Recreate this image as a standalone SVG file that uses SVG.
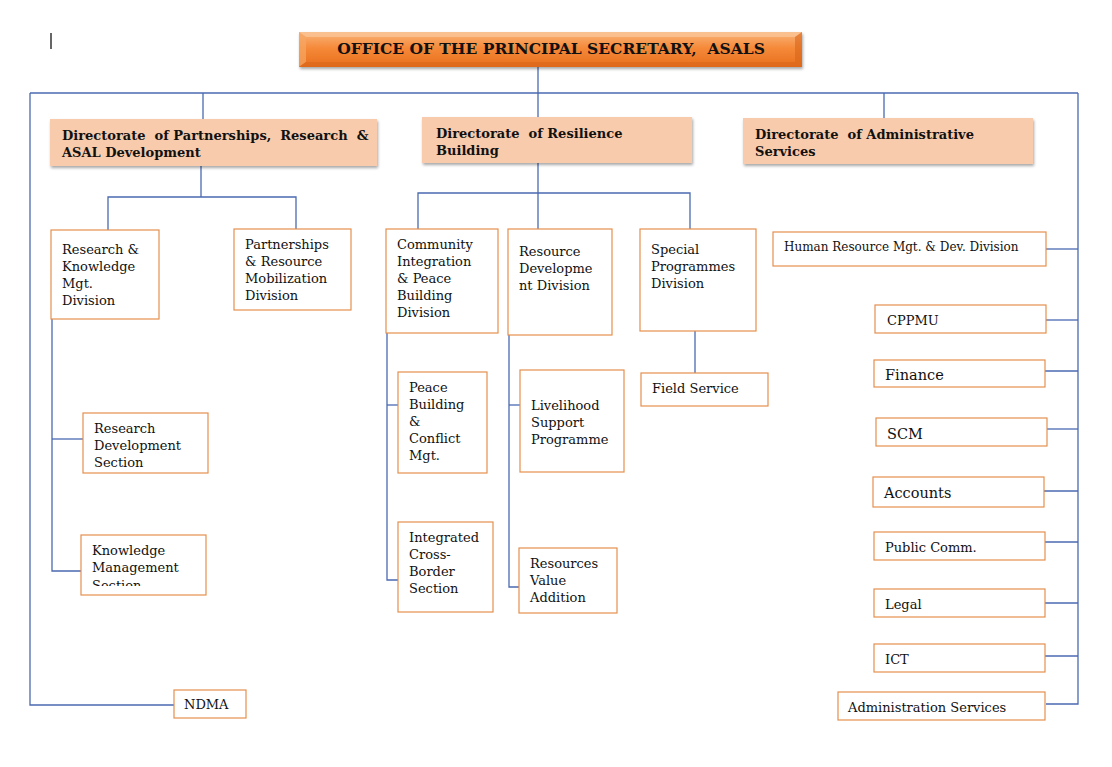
<svg xmlns="http://www.w3.org/2000/svg" width="1112" height="767" viewBox="0 0 1112 767">
<defs>
<linearGradient id="tg" x1="0" y1="0" x2="0" y2="1">
<stop offset="0" stop-color="#F9B47A"/>
<stop offset="0.45" stop-color="#F58A3A"/>
<stop offset="1" stop-color="#E86E1C"/>
</linearGradient>
<filter id="sh" x="-5%" y="-20%" width="110%" height="150%">
<feGaussianBlur in="SourceAlpha" stdDeviation="1.5"/>
<feOffset dx="1" dy="2"/>
<feComponentTransfer><feFuncA type="linear" slope="0.35"/></feComponentTransfer>
<feMerge><feMergeNode/><feMergeNode in="SourceGraphic"/></feMerge>
</filter>
<clipPath id="kmclip"><rect x="81" y="535" width="126" height="51"/></clipPath>
</defs>
<style>
.c{stroke:#4A6AB0;stroke-width:1.3;fill:none}
.b{fill:#fff;stroke:#E58F4E;stroke-width:1.2}
.d{fill:#F8CBAD;filter:url(#sh)}
.t{font-family:"DejaVu Serif","Liberation Serif",serif;font-size:13px;fill:#111}
.s{font-family:"DejaVu Serif","Liberation Serif",serif;font-size:12px;fill:#111}
.l{font-family:"DejaVu Serif","Liberation Serif",serif;font-size:14.5px;fill:#111}
.h{font-family:"DejaVu Serif","Liberation Serif",serif;font-size:13px;font-weight:bold;fill:#111}
.ti{font-family:"DejaVu Serif","Liberation Serif",serif;font-size:15.5px;font-weight:bold;fill:#111}
</style>
<rect width="1112" height="767" fill="#fff"/>
<line x1="51" y1="33" x2="51" y2="49" stroke="#000" stroke-width="1.2"/>
<g id="connectors">
<polyline class="c" points="538,67 538,117"/>
<line class="c" x1="30" y1="93" x2="1078" y2="93"/>
<polyline class="c" points="30,93 30,705 174,705"/>
<polyline class="c" points="1078,93 1078,704 1046,704"/>
<line class="c" x1="203" y1="93" x2="203" y2="119"/>
<line class="c" x1="884" y1="93" x2="884" y2="118"/>
<line class="c" x1="201" y1="166" x2="201" y2="197"/>
<polyline class="c" points="108,230 108,197 296,197 296,229"/>
<polyline class="c" points="52,319 52,571 81,571"/>
<line class="c" x1="52" y1="439" x2="83" y2="439"/>
<line class="c" x1="538" y1="163" x2="538" y2="229"/>
<polyline class="c" points="418,229 418,193 690,193 690,229"/>
<polyline class="c" points="387,333 387,580 398,580"/>
<line class="c" x1="387" y1="405" x2="398" y2="405"/>
<polyline class="c" points="509,335 509,587 519,587"/>
<line class="c" x1="509" y1="405" x2="520" y2="405"/>
<line class="c" x1="695" y1="331" x2="695" y2="373"/>
<line class="c" x1="1046" y1="249" x2="1078" y2="249"/>
<line class="c" x1="1046" y1="320" x2="1078" y2="320"/>
<line class="c" x1="1045" y1="371" x2="1078" y2="371"/>
<line class="c" x1="1047" y1="429" x2="1078" y2="429"/>
<line class="c" x1="1044" y1="491" x2="1078" y2="491"/>
<line class="c" x1="1045" y1="542" x2="1078" y2="542"/>
<line class="c" x1="1045" y1="603" x2="1078" y2="603"/>
<line class="c" x1="1045" y1="656" x2="1078" y2="656"/>
</g>
<g id="office">
<rect x="299" y="32" width="503" height="35" fill="url(#tg)" filter="url(#sh)"/>
<polygon points="299,32 802,32 795,37 306,37" fill="#FBC89A" opacity="0.7"/>
<polygon points="299,32 306,37 306,62 299,67" fill="#F7A765" opacity="0.7"/>
<polygon points="802,32 795,37 795,62 802,67" fill="#D8651A" opacity="0.6"/>
<polygon points="299,67 306,62 795,62 802,67" fill="#D8661A" opacity="0.6"/>
<text class="ti" x="551" y="54" text-anchor="middle" xml:space="preserve">OFFICE OF THE PRINCIPAL SECRETARY,  ASALS</text>
</g>
<g id="dir-partnerships">
<rect class="d" x="50" y="119" width="327" height="47"/>
<text class="h" x="62" y="140" xml:space="preserve">Directorate  of Partnerships,  Research  &amp;</text>
<text class="h" x="62" y="157">ASAL Development</text>
</g>
<g id="dir-resilience">
<rect class="d" x="422" y="117" width="270" height="46"/>
<text class="h" x="436" y="138" xml:space="preserve">Directorate  of Resilience</text>
<text class="h" x="436" y="155">Building</text>
</g>
<g id="dir-admin">
<rect class="d" x="743" y="118" width="290" height="46"/>
<text class="h" x="755" y="139" xml:space="preserve">Directorate  of Administrative</text>
<text class="h" x="755" y="156">Services</text>
</g>
<g id="research-knowledge">
<rect class="b" x="51" y="230" width="108" height="89"/>
<text class="t" x="62" y="254">Research &amp;</text>
<text class="t" x="62" y="271">Knowledge</text>
<text class="t" x="62" y="288">Mgt.</text>
<text class="t" x="62" y="305">Division</text>
</g>
<g id="partnerships-division">
<rect class="b" x="234" y="229" width="117" height="81"/>
<text class="t" x="245" y="249">Partnerships</text>
<text class="t" x="245" y="266">&amp; Resource</text>
<text class="t" x="245" y="283">Mobilization</text>
<text class="t" x="245" y="300">Division</text>
</g>
<g id="research-dev-section">
<rect class="b" x="83" y="413" width="125" height="60"/>
<text class="t" x="94" y="433">Research</text>
<text class="t" x="94" y="450">Development</text>
<text class="t" x="94" y="467">Section</text>
</g>
<g id="knowledge-mgmt-section">
<rect class="b" x="81" y="535" width="125" height="60"/>
<g clip-path="url(#kmclip)">
<text class="t" x="92" y="555">Knowledge</text>
<text class="t" x="92" y="572">Management</text>
<text class="t" x="92" y="590">Section</text>
</g>
</g>
<g id="community-integration">
<rect class="b" x="386" y="229" width="112" height="104"/>
<text class="t" x="397" y="249">Community</text>
<text class="t" x="397" y="266">Integration</text>
<text class="t" x="397" y="283">&amp; Peace</text>
<text class="t" x="397" y="300">Building</text>
<text class="t" x="397" y="317">Division</text>
</g>
<g id="resource-development">
<rect class="b" x="508" y="229" width="104" height="106"/>
<text class="t" x="519" y="256">Resource</text>
<text class="t" x="519" y="273">Developme</text>
<text class="t" x="519" y="290">nt Division</text>
</g>
<g id="special-programmes">
<rect class="b" x="640" y="229" width="116" height="102"/>
<text class="t" x="651" y="254">Special</text>
<text class="t" x="651" y="271">Programmes</text>
<text class="t" x="651" y="288">Division</text>
</g>
<g id="peace-building">
<rect class="b" x="398" y="372" width="89" height="101"/>
<text class="t" x="409" y="392">Peace</text>
<text class="t" x="409" y="409">Building</text>
<text class="t" x="409" y="426">&amp;</text>
<text class="t" x="409" y="443">Conflict</text>
<text class="t" x="409" y="460">Mgt.</text>
</g>
<g id="integrated-cross-border">
<rect class="b" x="398" y="522" width="95" height="90"/>
<text class="t" x="409" y="542">Integrated</text>
<text class="t" x="409" y="559">Cross-</text>
<text class="t" x="409" y="576">Border</text>
<text class="t" x="409" y="593">Section</text>
</g>
<g id="livelihood-support">
<rect class="b" x="520" y="370" width="104" height="102"/>
<text class="t" x="531" y="410">Livelihood</text>
<text class="t" x="531" y="427">Support</text>
<text class="t" x="531" y="444">Programme</text>
</g>
<g id="resources-value-addition">
<rect class="b" x="519" y="548" width="98" height="65"/>
<text class="t" x="530" y="568">Resources</text>
<text class="t" x="530" y="585">Value</text>
<text class="t" x="530" y="602">Addition</text>
</g>
<g id="field-service">
<rect class="b" x="641" y="373" width="127" height="33"/>
<text class="t" x="652" y="393">Field Service</text>
</g>
<g id="hr">
<rect class="b" x="773" y="232" width="273" height="34"/>
<text class="s" x="784" y="251">Human Resource Mgt. &amp; Dev. Division</text>
</g>
<g id="cppmu">
<rect class="b" x="875" y="305" width="171" height="28"/>
<text class="t" x="887" y="325">CPPMU</text>
</g>
<g id="finance">
<rect class="b" x="874" y="360" width="171" height="27"/>
<text class="l" x="885" y="380">Finance</text>
</g>
<g id="scm">
<rect class="b" x="876" y="418" width="171" height="28"/>
<text class="l" x="887" y="439">SCM</text>
</g>
<g id="accounts">
<rect class="b" x="873" y="477" width="171" height="30"/>
<text class="l" x="884" y="498">Accounts</text>
</g>
<g id="public-comm">
<rect class="b" x="874" y="532" width="171" height="28"/>
<text class="t" x="885" y="552">Public Comm.</text>
</g>
<g id="legal">
<rect class="b" x="874" y="589" width="171" height="28"/>
<text class="t" x="885" y="609">Legal</text>
</g>
<g id="ict">
<rect class="b" x="874" y="644" width="171" height="28"/>
<text class="t" x="885" y="664">ICT</text>
</g>
<g id="admin-services">
<rect class="b" x="838" y="692" width="207" height="28"/>
<text class="t" x="848" y="712">Administration Services</text>
</g>
<g id="ndma">
<rect class="b" x="174" y="690" width="72" height="28"/>
<text class="t" x="184" y="709">NDMA</text>
</g>
</svg>
